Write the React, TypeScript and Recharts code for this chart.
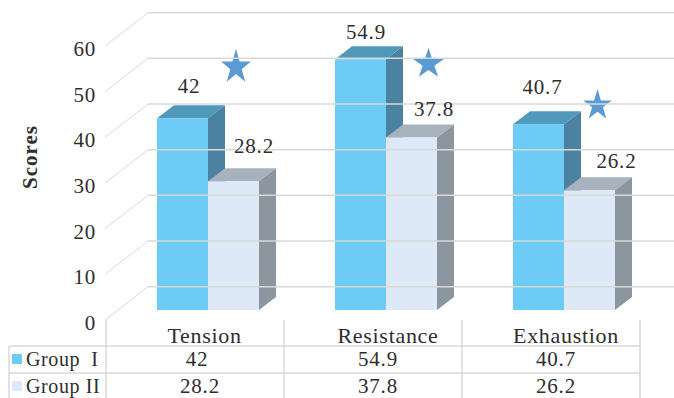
import { Bar, ComposedChart, LabelList, Line, XAxis, YAxis } from 'recharts';

const categories = ['Tension', 'Resistance', 'Exhaustion'];
const groupOne = [42, 54.9, 40.7];
const groupTwo = [28.2, 37.8, 26.2];
const starLevels = [53.2, 53.9, 44.8];
const yTicks = [0, 10, 20, 30, 40, 50, 60];

// label placement relative to each bar's front face
const groupOneLabelShift = [[6.5, -25], [5.5, -20], [4, -30]];
const groupTwoLabelShift = [[20.5, -28], [22.5, -21], [27, -22]];
const starShift = [28, 42.5, 33.5];
const starRadii = [[15.7, 18.3], [16.3, 16], [15, 16.3]];
const categoryShift = [-3.5, 2, 2];
const groupOneCellShift = [-11, -8, -8];

const DEPTH_X = 17;
const DEPTH_Y = 13;
const GRID = '#d9d9d9';
const INK = '#2e2e2e';
const FONT = '"Liberation Serif", serif';

const COLORS = {
  one: { front: '#6dcbf5', top: '#5199bb', side: '#4a82a0' },
  two: { front: '#dde9f7', top: '#a7b2bc', side: '#8c969f' },
};

const data = categories.map((name, i) => ({
  name,
  one: groupOne[i],
  two: groupTwo[i],
  star: starLevels[i],
}));

// front face plus the top and side faces that give the column its depth
const Column3D = ({ x, y, width, height, palette }: any) => {
  const right = x + width;
  const bottom = y + height;
  return (
    <g>
      <polygon
        points={`${x},${y} ${x + DEPTH_X},${y - DEPTH_Y} ${right + DEPTH_X},${y - DEPTH_Y} ${right},${y}`}
        fill={palette.top}
      />
      <polygon
        points={`${right},${y} ${right + DEPTH_X},${y - DEPTH_Y} ${right + DEPTH_X},${bottom - DEPTH_Y} ${right},${bottom}`}
        fill={palette.side}
      />
      <rect x={x} y={y} width={width} height={height} fill={palette.front} />
    </g>
  );
};

const ValueLabel = ({ x, y, width, value, index, shift }: any) => (
  <text
    x={x + width / 2 + shift[index][0]}
    y={y + shift[index][1]}
    textAnchor="middle"
    fontFamily={FONT}
    fontSize={21}
    letterSpacing={0.8}
    fill={INK}
  >
    {value}
  </text>
);

const Star = ({ cx, cy, index }: any) => {
  const [rx, ry] = starRadii[index];
  const points = Array.from({ length: 10 }, (_, k) => {
    const angle = (Math.PI / 5) * k - Math.PI / 2;
    const scale = k % 2 === 0 ? 1 : 0.382;
    return `${cx + starShift[index] + rx * scale * Math.cos(angle)},${cy + ry * scale * Math.sin(angle)}`;
  });
  return <polygon key={index} points={points.join(' ')} fill="#5b9bd5" />;
};

// value tick plus the wall lines that run from it into the back of the chart
const WallTick = ({ y, payload }: any) => (
  <g>
    <line x1={105} y1={y + 10} x2={148} y2={y - 23.3} stroke={GRID} strokeWidth={1} />
    <line x1={148} y1={y - 23.3} x2={674} y2={y - 23.3} stroke={GRID} strokeWidth={1.5} />
    <text
      x={96}
      y={y + 20}
      textAnchor="end"
      fontFamily={FONT}
      fontSize={21}
      letterSpacing={0.8}
      fill={INK}
    >
      {payload.value}
    </text>
  </g>
);

// category name with its two data table cells underneath
const TableTick = ({ x, payload, index }: any) => (
  <g fontFamily={FONT} fontSize={21} letterSpacing={0.8} fill={INK} textAnchor="middle">
    <line x1={x + 76} y1={320} x2={x + 76} y2={398} stroke={GRID} strokeWidth={1.5} />
    <text x={x + categoryShift[index]} y={343} fontSize={22} letterSpacing={0.7}>
      {payload.value}
    </text>
    <text x={x + groupOneCellShift[index]} y={366}>
      {groupOne[index]}
    </text>
    <text x={x - 8} y={393}>
      {groupTwo[index]}
    </text>
  </g>
);

const LegendRows = () => (
  <g fontFamily={FONT} fontSize={20} letterSpacing={0.6} fill={INK}>
    <line x1={9} y1={346} x2={640} y2={346} stroke={GRID} strokeWidth={1.5} />
    <line x1={9} y1={373} x2={640} y2={373} stroke={GRID} strokeWidth={1.5} />
    <line x1={9} y1={346} x2={9} y2={398} stroke={GRID} strokeWidth={1.5} />
    <line x1={106} y1={320} x2={106} y2={398} stroke={GRID} strokeWidth={1.5} />
    <rect x={12} y={354} width={10} height={10} fill={COLORS.one.front} />
    <rect x={12} y={381} width={10} height={10} fill={COLORS.two.front} />
    <text x={26} y={366}>{'Group\u00A0\u00A0I'}</text>
    <text x={26} y={393}>Group II</text>
    <text
      transform="translate(37 157) rotate(-90)"
      textAnchor="middle"
      fontSize={21}
      fontWeight="bold"
      letterSpacing={1}
    >
      Scores
    </text>
  </g>
);

export default function App() {
  return (
    <div style={{ position: 'absolute', left: 0, top: 0 }}>
      <ComposedChart
        width={674}
        height={398}
        data={data}
        barGap={0}
        barSize={51}
        margin={{ top: 36, right: 21, bottom: 0, left: 0 }}
      >
        <YAxis
          width={119}
          domain={[0, 60]}
          ticks={yTicks}
          axisLine={false}
          tickLine={false}
          tick={<WallTick />}
        />
        <XAxis
          dataKey="name"
          height={88}
          axisLine={false}
          tickLine={false}
          interval={0}
          tick={<TableTick />}
        />
        <LegendRows />
        <Bar
          dataKey="one"
          isAnimationActive={false}
          shape={(props: any) => <Column3D {...props} palette={COLORS.one} />}
        >
          <LabelList dataKey="one" content={(props: any) => <ValueLabel {...props} shift={groupOneLabelShift} />} />
        </Bar>
        <Bar
          dataKey="two"
          isAnimationActive={false}
          shape={(props: any) => <Column3D {...props} palette={COLORS.two} />}
        >
          <LabelList dataKey="two" content={(props: any) => <ValueLabel {...props} shift={groupTwoLabelShift} />} />
        </Bar>
        <Line
          dataKey="star"
          stroke="none"
          isAnimationActive={false}
          dot={(props: any) => <Star key={props.index} {...props} />}
          activeDot={false}
        />
      </ComposedChart>
    </div>
  );
}
